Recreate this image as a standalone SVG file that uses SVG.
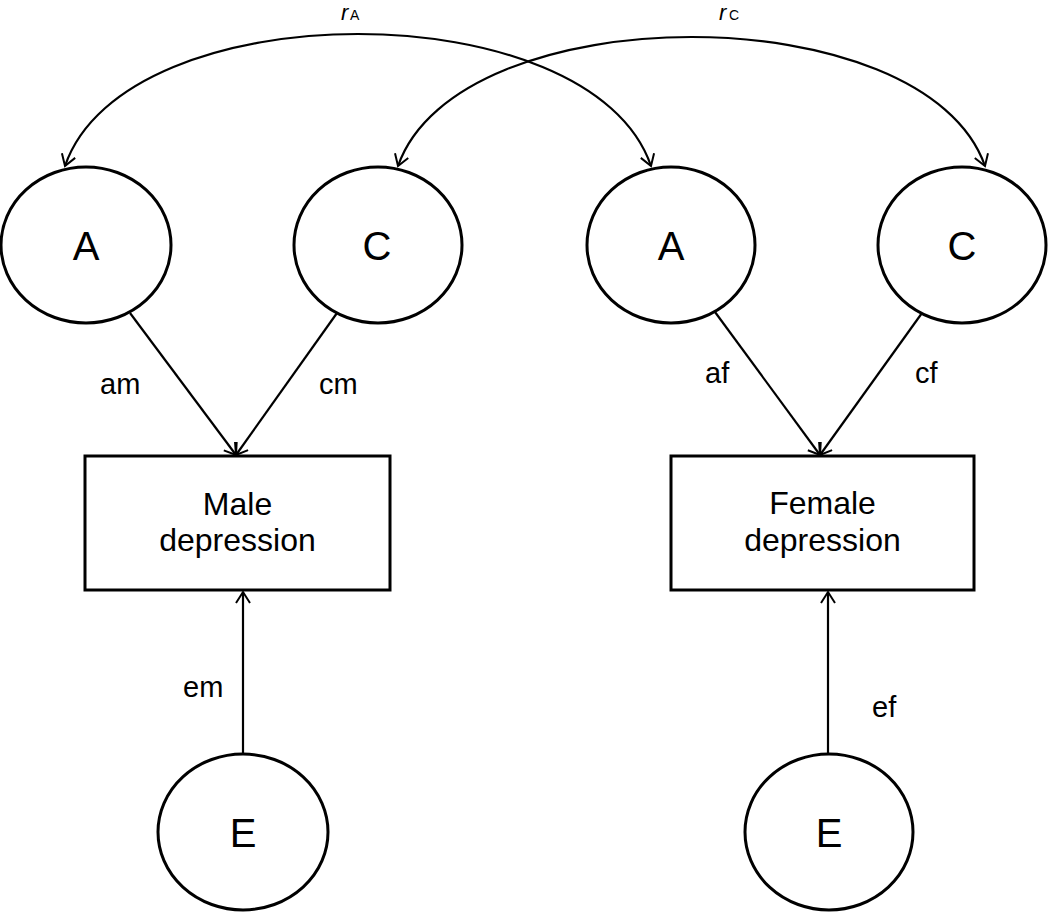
<svg xmlns="http://www.w3.org/2000/svg" width="1050" height="912" viewBox="0 0 1050 912">
<defs>
<marker id="arr" markerUnits="userSpaceOnUse" markerWidth="16" markerHeight="18" refX="12" refY="8" orient="auto-start-reverse" viewBox="0 0 16 18">
<path d="M1,1 L12,8 L1,15" fill="none" stroke="#000" stroke-width="2"/>
</marker>
</defs>
<style>
.node{fill:#fff;stroke:#000;stroke-width:3}
.lbl{font-family:"Liberation Sans",Arial,sans-serif;fill:#000}
.big{font-size:40px;text-anchor:middle}
.box{font-size:32px;text-anchor:middle}
.edge{font-size:29px}
.con{fill:none;stroke:#000;stroke-width:2.2;marker-end:url(#arr)}
.arc{marker-start:url(#arr)}
</style>
<rect width="1050" height="912" fill="#fff"/>
<g id="connectors">
<path class="con arc" d="M651,166 C591,-10 125,-10 65,166"/>
<path class="con arc" d="M985,166 C925,-6 458,-6 398,166"/>
<line class="con" x1="130" y1="313" x2="236" y2="455"/>
<line class="con" x1="337" y1="313" x2="236" y2="455"/>
<line class="con" x1="715" y1="312" x2="820" y2="455"/>
<line class="con" x1="922" y1="313" x2="820" y2="455"/>
<line class="con" x1="243" y1="754" x2="243" y2="592"/>
<line class="con" x1="828" y1="754" x2="828" y2="592"/>
<text class="lbl" x="341" y="20" font-size="22" font-style="italic">r</text>
<text class="lbl" x="350" y="20" font-size="14">A</text>
<text class="lbl" x="719" y="20" font-size="22" font-style="italic">r</text>
<text class="lbl" x="729" y="20" font-size="14">C</text>
<text class="lbl edge" x="100" y="394">am</text>
<text class="lbl edge" x="319" y="394">cm</text>
<text class="lbl edge" x="705" y="383">af</text>
<text class="lbl edge" x="915" y="383">cf</text>
<text class="lbl edge" x="183" y="697" font-size="30">em</text>
<text class="lbl edge" x="872" y="717">ef</text>
</g>
<g id="male-A">
<ellipse class="node" cx="86" cy="245" rx="85" ry="78"/>
<text class="lbl big" x="86" y="260">A</text>
</g>
<g id="male-C">
<ellipse class="node" cx="378" cy="245" rx="84" ry="78"/>
<text class="lbl big" x="377" y="260">C</text>
</g>
<g id="female-A">
<ellipse class="node" cx="671" cy="245" rx="84" ry="78"/>
<text class="lbl big" x="671" y="260">A</text>
</g>
<g id="female-C">
<ellipse class="node" cx="962" cy="245" rx="84" ry="78"/>
<text class="lbl big" x="962" y="260">C</text>
</g>
<g id="male-depression">
<rect class="node" x="85" y="456" width="305" height="134"/>
<text class="lbl box" x="237.5" y="515">Male</text>
<text class="lbl box" x="237.5" y="551">depression</text>
</g>
<g id="female-depression">
<rect class="node" x="671" y="456" width="303" height="134"/>
<text class="lbl box" x="822.5" y="514">Female</text>
<text class="lbl box" x="822.5" y="551">depression</text>
</g>
<g id="male-E">
<ellipse class="node" cx="243" cy="832" rx="85" ry="78"/>
<text class="lbl big" x="243" y="847">E</text>
</g>
<g id="female-E">
<ellipse class="node" cx="829" cy="832" rx="84" ry="78"/>
<text class="lbl big" x="829" y="847">E</text>
</g>
</svg>
